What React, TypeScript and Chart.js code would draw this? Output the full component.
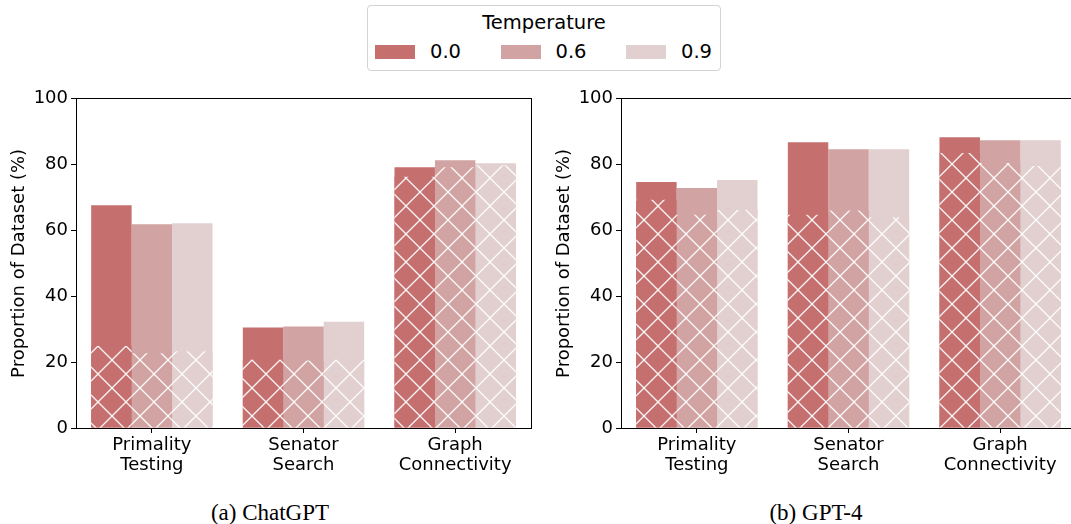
import React, { useEffect, useRef } from "react";
import { Chart, registerables } from "chart.js";

Chart.register(...registerables);

// ---------------- data ----------------
const categories: string[][] = [
  ["Primality", "Testing"],
  ["Senator", "Search"],
  ["Graph", "Connectivity"],
];
const temperatures = ["0.0", "0.6", "0.9"];
const yTicks = [0, 20, 40, 60, 80, 100];

// ChatGPT: total bar heights and hatched (lower) portion, per temperature
const chatgptTotal00 = [67.7, 30.5, 79.2];
const chatgptTotal06 = [61.9, 30.8, 81.3];
const chatgptTotal09 = [62.2, 32.3, 80.4];
const chatgptHatch00 = [24.9, 20.7, 76.3];
const chatgptHatch06 = [22.7, 20.5, 79.2];
const chatgptHatch09 = [23.3, 20.7, 79.8];

// GPT-4
const gpt4Total00 = [74.7, 86.8, 88.3];
const gpt4Total06 = [72.9, 84.7, 87.4];
const gpt4Total09 = [75.3, 84.7, 87.4];
const gpt4Hatch00 = [69.3, 64.8, 83.5];
const gpt4Hatch06 = [64.8, 66.1, 80.5];
const gpt4Hatch09 = [66.3, 64.0, 79.6];

const colors = ["#c66f6f", "#d2a3a3", "#e2cfcf"];
const FONT = "'DejaVu Sans', sans-serif";

function makeHatch(color: string, ox: number, oy: number): CanvasPattern | string {
  const s = 28;
  const c = document.createElement("canvas");
  c.width = s;
  c.height = s;
  const g = c.getContext("2d");
  if (!g) return color;
  g.fillStyle = color;
  g.fillRect(0, 0, s, s);
  g.strokeStyle = "rgba(255,255,255,0.95)";
  g.lineWidth = 1.3;
  g.beginPath();
  for (const k of [-1, 0, 1]) {
    g.moveTo(k * s - 1, -1);
    g.lineTo(k * s + s + 1, s + 1);
    g.moveTo((k + 1) * s + 1, -1);
    g.lineTo(k * s - 1, s + 1);
  }
  g.stroke();
  const p = g.createPattern(c, "repeat");
  if (!p) return color;
  try {
    p.setTransform(new DOMMatrix().translate(ox, oy));
  } catch (e) {}
  return p;
}

const framePlugin = {
  id: "frame",
  afterDatasetsDraw(chart: any) {
    const { ctx, chartArea: a } = chart;
    ctx.save();
    ctx.strokeStyle = "#000";
    ctx.lineWidth = 1;
    const l = Math.floor(a.left) + 0.5;
    const t = Math.floor(a.top) + 0.5;
    const r = Math.floor(a.right) + 0.5;
    const b = Math.floor(a.bottom) + 0.5;
    ctx.strokeRect(l, t, r - l, b - t);
    ctx.restore();
  },
};

const CANVAS_TOP = 85;
const CANVAS_W = 545;
const CANVAS_H = 400;

function Panel(props: { left: number; totals: number[][]; hatches: number[][] }) {
  const ref = useRef<HTMLCanvasElement | null>(null);
  useEffect(() => {
    if (!ref.current) return;
    // align hatch lattice to page coordinates (crossing at page 98,346)
    const mod = (v: number, m: number) => ((v % m) + m) % m;
    const ox = mod(98 - props.left, 28);
    const oy = mod(346 - CANVAS_TOP, 28);
    const datasets: any[] = [];
    temperatures.forEach((t, i) => {
      datasets.push({
        label: t + " hatched",
        data: props.hatches[i],
        backgroundColor: makeHatch(colors[i], ox, oy),
        stack: "s" + i,
        order: 0,
        borderWidth: 0,
        categoryPercentage: 0.8,
        barPercentage: 1,
      });
    });
    temperatures.forEach((t, i) => {
      datasets.push({
        label: t,
        data: props.totals[i],
        backgroundColor: colors[i],
        stack: "s" + i,
        order: 1,
        borderWidth: 0,
        categoryPercentage: 0.8,
        barPercentage: 1,
      });
    });
    const chart = new Chart(ref.current, {
      type: "bar",
      data: { labels: categories, datasets },
      plugins: [framePlugin],
      options: {
        animation: false,
        responsive: false,
        devicePixelRatio: window.devicePixelRatio || 1,
        layout: { padding: { top: 12, right: 14, left: 0, bottom: 0 } },
        plugins: { legend: { display: false }, tooltip: { enabled: false } },
        scales: {
          x: {
            type: "category",
            stacked: true,
            offset: true,
            grid: {
              offset: false,
              drawOnChartArea: false,
              drawTicks: true,
              tickLength: 5,
              tickWidth: 1,
              color: "#000",
            },
            border: { display: false },
            ticks: {
              color: "#000",
              font: { size: 18, family: FONT, lineHeight: 1.12 },
              padding: 2,
              maxRotation: 0,
              autoSkip: false,
            },
            afterFit: (s: any) => {
              s.height = 57;
            },
          },
          y: {
            type: "linear",
            stacked: false,
            min: 0,
            max: 100,
            afterBuildTicks: (s: any) => {
              s.ticks = yTicks.map((v) => ({ value: v }));
            },
            grid: {
              drawOnChartArea: false,
              drawTicks: true,
              tickLength: 5,
              tickWidth: 1,
              color: "#000",
            },
            border: { display: false },
            ticks: {
              color: "#000",
              font: { size: 18, family: FONT },
              padding: 3,
            },
            title: {
              display: true,
              text: "Proportion of Dataset (%)",
              color: "#000",
              font: { size: 18, family: FONT },
              padding: { top: 9, bottom: 0 },
            },
            afterFit: (s: any) => {
              s.width = 76;
            },
          },
        },
      } as any,
    });
    return () => chart.destroy();
  }, []);
  return (
    <canvas
      ref={ref}
      width={CANVAS_W}
      height={CANVAS_H}
      style={{
        position: "absolute",
        left: props.left,
        top: CANVAS_TOP,
        width: CANVAS_W,
        height: CANVAS_H,
      }}
    />
  );
}

export default function App() {
  const chatgptTotals = [chatgptTotal00, chatgptTotal06, chatgptTotal09];
  const chatgptHatches = [chatgptHatch00, chatgptHatch06, chatgptHatch09];
  const gpt4Totals = [gpt4Total00, gpt4Total06, gpt4Total09];
  const gpt4Hatches = [gpt4Hatch00, gpt4Hatch06, gpt4Hatch09];
  const captionStyle: React.CSSProperties = {
    position: "absolute",
    width: 240,
    top: 501,
    lineHeight: "23px",
    fontSize: 23,
    fontFamily: "'Liberation Serif', serif",
    textAlign: "center",
    whiteSpace: "nowrap",
    color: "#000",
  };
  return (
    <div
      style={{
        position: "fixed",
        left: 0,
        top: 0,
        width: 1071,
        height: 524,
        overflow: "hidden",
        background: "#fff",
      }}
    >
      <Panel left={0} totals={chatgptTotals} hatches={chatgptHatches} />
      <Panel left={545} totals={gpt4Totals} hatches={gpt4Hatches} />

      {/* legend */}
      <div
        style={{
          position: "absolute",
          left: 367,
          top: 5,
          width: 354,
          height: 66,
          boxSizing: "border-box",
          border: "1px solid #d3d3d3",
          borderRadius: 4,
          fontFamily: FONT,
          color: "#000",
        }}
      >
        <div
          style={{
            position: "absolute",
            left: 0,
            width: 352,
            top: 4.5,
            lineHeight: "24px",
            fontSize: 19.5,
            textAlign: "center",
            whiteSpace: "nowrap",
          }}
        >
          Temperature
        </div>
        {temperatures.map((t, i) => (
          <React.Fragment key={t}>
            <div
              style={{
                position: "absolute",
                left: 375 - 368 + i * 125.5,
                top: 45 - 6,
                width: 40,
                height: 14,
                background: colors[i],
              }}
            />
            <div
              style={{
                position: "absolute",
                left: 430 - 368 + i * 125.5,
                top: 33.5,
                lineHeight: "24px",
                fontSize: 19.5,
                whiteSpace: "nowrap",
              }}
            >
              {t}
            </div>
          </React.Fragment>
        ))}
      </div>

      {/* captions */}
      <div style={{ ...captionStyle, left: 270 - 120 }}>(a) ChatGPT</div>
      <div style={{ ...captionStyle, left: 816 - 120 }}>(b) GPT-4</div>
    </div>
  );
}
